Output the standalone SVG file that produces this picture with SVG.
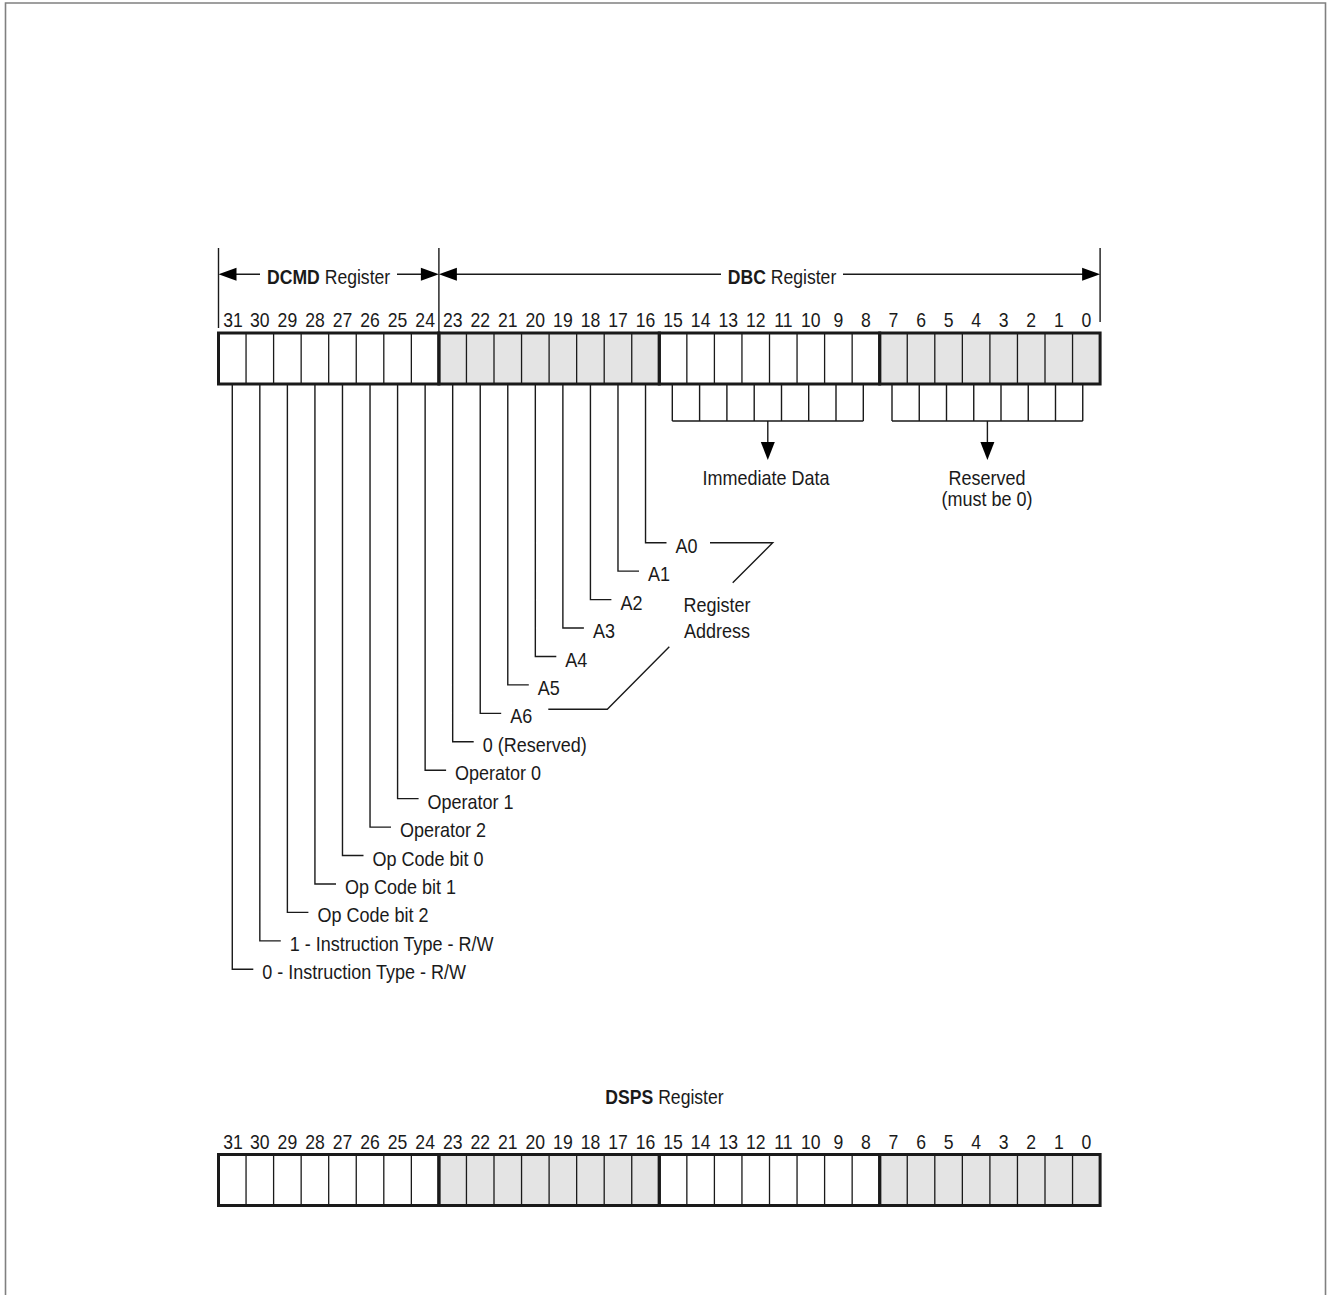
<svg xmlns="http://www.w3.org/2000/svg" width="1332" height="1295" viewBox="0 0 1332 1295">
<style>
.t{font-family:"Liberation Sans",Arial,sans-serif;font-size:20px;fill:#1a1a1a}
.c{text-anchor:middle}
.b{font-weight:bold}
.ln{fill:none;stroke:#1a1a1a;stroke-width:1.4}
.thin{fill:none;stroke:#1a1a1a;stroke-width:1.3}
.byte{fill:none;stroke:#1a1a1a;stroke-width:3}
.g{fill:#e4e4e4}
.w{fill:#fff}
.ah{fill:#000}
</style>
<defs>
<path id="div" d="M246.05 0V51M273.6 0V51M301.15 0V51M328.7 0V51M356.25 0V51M383.8 0V51M411.35 0V51M466.45 0V51M494 0V51M521.55 0V51M549.1 0V51M576.65 0V51M604.2 0V51M631.75 0V51M686.85 0V51M714.4 0V51M741.95 0V51M769.5 0V51M797.05 0V51M824.6 0V51M852.15 0V51M907.25 0V51M934.8 0V51M962.35 0V51M989.9 0V51M1017.45 0V51M1045 0V51M1072.55 0V51"/>
<g id="reg">
<rect class="w" x="218.5" y="0" width="220.4" height="51"/>
<rect class="g" x="438.9" y="0" width="220.4" height="51"/>
<rect class="w" x="659.3" y="0" width="220.4" height="51"/>
<rect class="g" x="879.7" y="0" width="220.4" height="51"/>
<use href="#div" class="thin"/>
<rect class="byte" x="218.5" y="0" width="220.4" height="51"/>
<rect class="byte" x="438.9" y="0" width="220.4" height="51"/>
<rect class="byte" x="659.3" y="0" width="220.4" height="51"/>
<rect class="byte" x="879.7" y="0" width="220.4" height="51"/>
</g>
<g id="nums">
<text class="t c" transform="translate(233 0) scale(0.88 1)">31</text>
<text class="t c" transform="translate(259.83 0) scale(0.88 1)">30</text>
<text class="t c" transform="translate(287.38 0) scale(0.88 1)">29</text>
<text class="t c" transform="translate(314.93 0) scale(0.88 1)">28</text>
<text class="t c" transform="translate(342.48 0) scale(0.88 1)">27</text>
<text class="t c" transform="translate(370.03 0) scale(0.88 1)">26</text>
<text class="t c" transform="translate(397.58 0) scale(0.88 1)">25</text>
<text class="t c" transform="translate(425.13 0) scale(0.88 1)">24</text>
<text class="t c" transform="translate(452.68 0) scale(0.88 1)">23</text>
<text class="t c" transform="translate(480.23 0) scale(0.88 1)">22</text>
<text class="t c" transform="translate(507.78 0) scale(0.88 1)">21</text>
<text class="t c" transform="translate(535.33 0) scale(0.88 1)">20</text>
<text class="t c" transform="translate(562.88 0) scale(0.88 1)">19</text>
<text class="t c" transform="translate(590.43 0) scale(0.88 1)">18</text>
<text class="t c" transform="translate(617.98 0) scale(0.88 1)">17</text>
<text class="t c" transform="translate(645.53 0) scale(0.88 1)">16</text>
<text class="t c" transform="translate(673.08 0) scale(0.88 1)">15</text>
<text class="t c" transform="translate(700.63 0) scale(0.88 1)">14</text>
<text class="t c" transform="translate(728.18 0) scale(0.88 1)">13</text>
<text class="t c" transform="translate(755.73 0) scale(0.88 1)">12</text>
<text class="t c" transform="translate(783.28 0) scale(0.88 1)">11</text>
<text class="t c" transform="translate(810.83 0) scale(0.88 1)">10</text>
<text class="t c" transform="translate(838.38 0) scale(0.88 1)">9</text>
<text class="t c" transform="translate(865.93 0) scale(0.88 1)">8</text>
<text class="t c" transform="translate(893.48 0) scale(0.88 1)">7</text>
<text class="t c" transform="translate(921.03 0) scale(0.88 1)">6</text>
<text class="t c" transform="translate(948.58 0) scale(0.88 1)">5</text>
<text class="t c" transform="translate(976.13 0) scale(0.88 1)">4</text>
<text class="t c" transform="translate(1003.68 0) scale(0.88 1)">3</text>
<text class="t c" transform="translate(1031.23 0) scale(0.88 1)">2</text>
<text class="t c" transform="translate(1058.78 0) scale(0.88 1)">1</text>
<text class="t c" transform="translate(1086.33 0) scale(0.88 1)">0</text>
</g>
</defs>

<path d="M5.5 1295V3H1325.5V1295" fill="none" stroke="#808080" stroke-width="1.6"/>

<g id="header">
<path class="ln" d="M218.5 248V328M438.9 248V332M1100.1 248V322"/>
<path class="ln" d="M235 274.3H260M397 274.3H422M456 274.3H721M843 274.3H1083"/>
<polygon class="ah" points="218.5,274.3 236.5,267.8 236.5,280.8"/>
<polygon class="ah" points="438.9,274.3 420.9,267.8 420.9,280.8"/>
<polygon class="ah" points="438.9,274.3 456.9,267.8 456.9,280.8"/>
<polygon class="ah" points="1100.1,274.3 1082.1,267.8 1082.1,280.8"/>
<text id="dcmd-label" class="t c" transform="translate(328.6 283.5) scale(0.88 1)"><tspan class="b">DCMD</tspan> Register</text>
<text id="dbc-label" class="t c" transform="translate(782 283.5) scale(0.88 1)"><tspan class="b">DBC</tspan> Register</text>
</g>

<g id="main-register">
<use href="#nums" y="327.3"/>
<use href="#reg" y="333"/>
</g>

<g id="connectors">
<path class="ln" d="M645.53 384V542.7H666.5M617.98 384V571.14H639M590.43 384V599.58H611.4M562.88 384V628.02H583.9M535.33 384V656.46H556.3M507.78 384V684.9H528.8M480.23 384V713.34H501.2M452.68 384V741.78H473.7M425.13 384V770.22H446.1M397.58 384V798.66H418.6M370.03 384V827.1H391M342.48 384V855.54H363.5M314.93 384V883.98H336M287.38 384V912.42H308.4M259.83 384V940.86H280.8M232.28 384V969.3H253.3"/>
<path class="ln" d="M710 542.7H772.7L732.7 582.7M548.3 709.3H607.3L669.3 646.7"/>
<path class="ln" d="M672.3 385V421M699.6 385V421M726.9 385V421M754.2 385V421M781.5 385V421M808.7 385V421M836 385V421M863.3 385V421M672.3 421H863.3M767.8 421V443"/>
<polygon class="ah" points="760.8,442 774.8,442 767.8,460"/>
<path class="ln" d="M892 385V421M919.25 385V421M946.5 385V421M973.75 385V421M1001 385V421M1028.25 385V421M1055.5 385V421M1082.75 385V421M892 421H1082.75M987.4 421V443"/>
<polygon class="ah" points="980.4,442 994.4,442 987.4,460"/>
</g>

<g id="field-labels">
<text class="t" transform="translate(675.5 552.7) scale(0.9 1)">A0</text>
<text class="t" transform="translate(648 581.1) scale(0.9 1)">A1</text>
<text class="t" transform="translate(620.4 609.6) scale(0.9 1)">A2</text>
<text class="t" transform="translate(592.9 638) scale(0.9 1)">A3</text>
<text class="t" transform="translate(565.3 666.5) scale(0.9 1)">A4</text>
<text class="t" transform="translate(537.8 694.9) scale(0.9 1)">A5</text>
<text class="t" transform="translate(510.2 723.3) scale(0.9 1)">A6</text>
<text class="t" transform="translate(482.7 751.8) scale(0.9 1)">0 (Reserved)</text>
<text class="t" transform="translate(455.1 780.2) scale(0.9 1)">Operator 0</text>
<text class="t" transform="translate(427.6 808.7) scale(0.9 1)">Operator 1</text>
<text class="t" transform="translate(400 837.1) scale(0.9 1)">Operator 2</text>
<text class="t" transform="translate(372.5 865.5) scale(0.9 1)">Op Code bit 0</text>
<text class="t" transform="translate(344.9 894) scale(0.9 1)">Op Code bit 1</text>
<text class="t" transform="translate(317.4 922.4) scale(0.9 1)">Op Code bit 2</text>
<text class="t" transform="translate(289.8 950.9) scale(0.9 1)">1 - Instruction Type - R/W</text>
<text class="t" transform="translate(262.3 979.3) scale(0.9 1)">0 - Instruction Type - R/W</text>
</g>

<g id="register-address">
<text class="t c" transform="translate(717 612) scale(0.9 1)">Register</text>
<text class="t c" transform="translate(717 638) scale(0.9 1)">Address</text>
</g>

<g id="immediate-data">
<text class="t c" transform="translate(766 485) scale(0.9 1)">Immediate Data</text>
</g>

<g id="reserved">
<text class="t c" transform="translate(987 485) scale(0.9 1)">Reserved</text>
<text class="t c" transform="translate(987 506) scale(0.9 1)">(must be 0)</text>
</g>

<g id="dsps-register">
<text class="t c" transform="translate(664.5 1103.5) scale(0.88 1)"><tspan class="b">DSPS</tspan> Register</text>
<use href="#nums" y="1149"/>
<use href="#reg" y="1154.5"/>
</g>
</svg>
